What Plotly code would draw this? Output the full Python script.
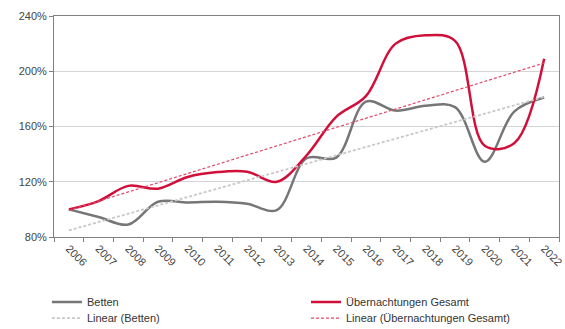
import numpy as np
import plotly.graph_objects as go

# Index values (2006 = 100 %)
years = [str(y) for y in range(2006, 2023)]
betten = [100, 94.5, 89, 105.5, 105, 105.5, 104, 99.5, 137, 137.5,
          178, 171.5, 175, 174, 134.5, 171, 181]
uebernachtungen = [100, 106, 117, 115, 123.5, 127, 127.3, 120, 139, 167,
                   182, 220, 226, 222, 146, 148, 209]
y_ticks = [80, 120, 160, 200, 240]

RED = "#D0103A"
GRAY = "#767676"
FONT = "Liberation Sans, Arial, sans-serif"


def linear_trend(values):
    """Least-squares linear trendline over the category index."""
    idx = np.arange(len(values))
    slope, intercept = np.polyfit(idx, values, 1)
    return list(intercept + slope * idx)


fig = go.Figure()
fig.add_trace(go.Scatter(
    x=years, y=betten, name="Betten", mode="lines", legend="legend",
    showlegend=True,
    line=dict(color=GRAY, width=2.5, shape="spline", smoothing=1.0)))
fig.add_trace(go.Scatter(
    x=years, y=uebernachtungen, name="Übernachtungen Gesamt", mode="lines",
    legend="legend2", showlegend=True,
    line=dict(color=RED, width=2.5, shape="spline", smoothing=1.0)))
fig.add_trace(go.Scatter(
    x=years, y=linear_trend(betten), name="Linear (Betten)", mode="lines",
    legend="legend3", showlegend=True,
    line=dict(color="#C8C8C8", width=1.8, dash="3px,2px")))
fig.add_trace(go.Scatter(
    x=years, y=linear_trend(uebernachtungen),
    name="Linear (Übernachtungen Gesamt)", mode="lines", legend="legend4",
    showlegend=True,
    line=dict(color="#E0486A", width=1.2, dash="3px,2px")))

# Two-column legend below the chart: one legend box per entry
legend_style = dict(
    orientation="v", xanchor="left", yanchor="middle",
    font=dict(family=FONT, size=11, color="#333333"),
    bgcolor="rgba(0,0,0,0)", borderwidth=0)
col_left, col_right = -0.014, 0.499
row_1, row_2 = -0.294, -0.367

fig.update_layout(
    width=565, height=329,
    margin=dict(l=54, r=6, t=16, b=92, autoexpand=False),
    paper_bgcolor="white", plot_bgcolor="white",
    font=dict(family=FONT, size=11, color="#333333"),
    showlegend=True,
    legend=dict(x=col_left, y=row_1, **legend_style),
    legend2=dict(x=col_right, y=row_1, **legend_style),
    legend3=dict(x=col_left, y=row_2, **legend_style),
    legend4=dict(x=col_right, y=row_2, **legend_style),
)

fig.update_xaxes(
    type="category", range=[-0.5, 16.5],
    tickangle=45, tickson="boundaries",
    ticks="outside", ticklen=4, tickcolor="#808080",
    showgrid=False,
    showline=True, linecolor="#808080", linewidth=1, mirror=True,
    tickfont=dict(family=FONT, size=11, color="#444444"),
)
fig.update_yaxes(
    range=[80, 240], tickvals=y_ticks, ticktext=[f"{v}%" for v in y_ticks],
    ticks="outside", ticklen=4, tickcolor="#808080",
    showgrid=True, gridcolor="#D4D4D4", gridwidth=1,
    zeroline=False,
    showline=True, linecolor="#808080", linewidth=1, mirror=True,
    tickfont=dict(family=FONT, size=11, color="#444444"),
)

fig.write_html("out.html")
